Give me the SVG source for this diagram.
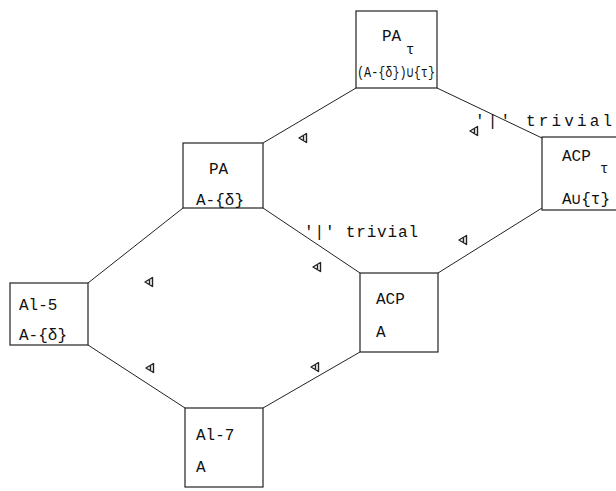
<svg xmlns="http://www.w3.org/2000/svg" width="616" height="491" viewBox="0 0 616 491">
<style>
.box{fill:none;stroke:#222;stroke-width:1.2}
.ln{fill:none;stroke:#222;stroke-width:1}
.ar{fill:none;stroke:#222;stroke-width:1.4;stroke-linejoin:round}
text{font-family:"Liberation Mono","DejaVu Sans Mono",monospace;font-size:16px;fill:#111}
.sub{font-size:14px}
</style>
<defs>
<path id="tri" class="ar" d="M-4,0 L3.5,-4.5 L3.5,4.5 Z M0.5,-2 L0.5,2"/>
</defs>
<rect width="616" height="491" fill="#fff"/>
<g id="connectors">
<line class="ln" x1="263" y1="143" x2="356" y2="88"/>
<line class="ln" x1="437" y1="88" x2="542" y2="138"/>
<line class="ln" x1="263" y1="208" x2="360" y2="273"/>
<line class="ln" x1="438" y1="273" x2="542" y2="208"/>
<line class="ln" x1="183" y1="208" x2="88" y2="283"/>
<line class="ln" x1="88" y1="345" x2="185" y2="408"/>
<line class="ln" x1="360" y1="352" x2="263" y2="408"/>
<use href="#tri" x="303" y="138"/>
<use href="#tri" x="474" y="131"/>
<use href="#tri" x="317" y="267"/>
<use href="#tri" x="463" y="240"/>
<use href="#tri" x="149" y="282"/>
<use href="#tri" x="150" y="368"/>
<use href="#tri" x="315" y="367"/>
</g>
<g id="PAtau">
<rect class="box" x="356" y="11" width="81" height="77"/>
<text x="382" y="41">PA</text>
<text class="sub" x="406" y="54">τ</text>
<text x="357" y="77" textLength="78" lengthAdjust="spacingAndGlyphs" style="font-size:15px">(A-{δ})∪{τ}</text>
</g>
<g id="ACPtau">
<rect class="box" x="542" y="137" width="80" height="73"/>
<text x="562" y="161">ACP</text>
<text class="sub" x="600" y="173">τ</text>
<text x="562" y="204">A∪{τ}</text>
</g>
<g id="PA">
<rect class="box" x="183" y="143" width="80" height="65"/>
<text x="209" y="174">PA</text>
<text x="196" y="205">A-{δ}</text>
</g>
<g id="Al5">
<rect class="box" x="10" y="283" width="78" height="62"/>
<text x="19" y="310">Al-5</text>
<text x="19" y="340">A-{δ}</text>
</g>
<g id="ACP">
<rect class="box" x="360" y="273" width="78" height="79"/>
<text x="376" y="304">ACP</text>
<text x="376" y="337">A</text>
</g>
<g id="Al7">
<rect class="box" x="185" y="408" width="78" height="79"/>
<text x="196" y="440">Al-7</text>
<text x="196" y="472">A</text>
</g>
<g id="labels">
<text x="475" y="126" textLength="137" lengthAdjust="spacing">'|' trivial</text>
<text x="304" y="237" textLength="114" lengthAdjust="spacing">'|' trivial</text>
</g>
</svg>
